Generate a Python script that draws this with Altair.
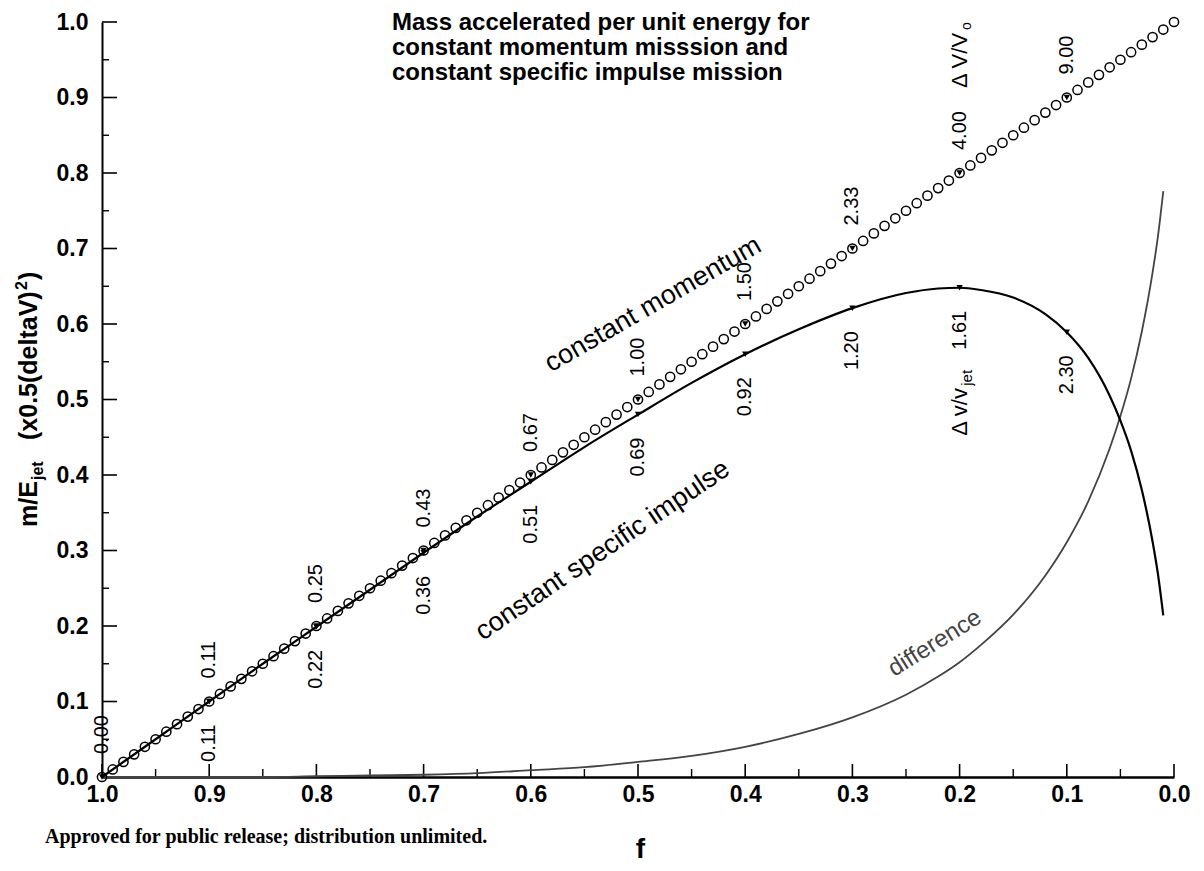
import altair as alt
import pandas as pd

FONT = "Liberation Sans"

# ---- constant momentum: open circles every 0.01 in f ----
cm_f = [0.00, 0.01, 0.02, 0.03, 0.04, 0.05, 0.06, 0.07, 0.08, 0.09,
        0.10, 0.11, 0.12, 0.13, 0.14, 0.15, 0.16, 0.17, 0.18, 0.19,
        0.20, 0.21, 0.22, 0.23, 0.24, 0.25, 0.26, 0.27, 0.28, 0.29,
        0.30, 0.31, 0.32, 0.33, 0.34, 0.35, 0.36, 0.37, 0.38, 0.39,
        0.40, 0.41, 0.42, 0.43, 0.44, 0.45, 0.46, 0.47, 0.48, 0.49,
        0.50, 0.51, 0.52, 0.53, 0.54, 0.55, 0.56, 0.57, 0.58, 0.59,
        0.60, 0.61, 0.62, 0.63, 0.64, 0.65, 0.66, 0.67, 0.68, 0.69,
        0.70, 0.71, 0.72, 0.73, 0.74, 0.75, 0.76, 0.77, 0.78, 0.79,
        0.80, 0.81, 0.82, 0.83, 0.84, 0.85, 0.86, 0.87, 0.88, 0.89,
        0.90, 0.91, 0.92, 0.93, 0.94, 0.95, 0.96, 0.97, 0.98, 0.99,
        1.00]
cm_y = [1.00, 0.99, 0.98, 0.97, 0.96, 0.95, 0.94, 0.93, 0.92, 0.91,
        0.90, 0.89, 0.88, 0.87, 0.86, 0.85, 0.84, 0.83, 0.82, 0.81,
        0.80, 0.79, 0.78, 0.77, 0.76, 0.75, 0.74, 0.73, 0.72, 0.71,
        0.70, 0.69, 0.68, 0.67, 0.66, 0.65, 0.64, 0.63, 0.62, 0.61,
        0.60, 0.59, 0.58, 0.57, 0.56, 0.55, 0.54, 0.53, 0.52, 0.51,
        0.50, 0.49, 0.48, 0.47, 0.46, 0.45, 0.44, 0.43, 0.42, 0.41,
        0.40, 0.39, 0.38, 0.37, 0.36, 0.35, 0.34, 0.33, 0.32, 0.31,
        0.30, 0.29, 0.28, 0.27, 0.26, 0.25, 0.24, 0.23, 0.22, 0.21,
        0.20, 0.19, 0.18, 0.17, 0.16, 0.15, 0.14, 0.13, 0.12, 0.11,
        0.10, 0.09, 0.08, 0.07, 0.06, 0.05, 0.04, 0.03, 0.02, 0.01,
        0.00]

# ---- constant specific impulse curve ----
csi_f = [1.00, 0.95, 0.90, 0.85, 0.80, 0.75, 0.70, 0.65, 0.60, 0.55,
         0.50, 0.45, 0.40, 0.35, 0.30, 0.25, 0.22, 0.20, 0.18, 0.15,
         0.12, 0.10, 0.08, 0.06, 0.05, 0.04, 0.03, 0.02, 0.015, 0.01]
csi_y = [0.000, 0.050, 0.100, 0.150, 0.199, 0.248, 0.297, 0.345, 0.391, 0.437,
         0.480, 0.522, 0.560, 0.593, 0.621, 0.641, 0.647, 0.648, 0.645, 0.635,
         0.613, 0.589, 0.555, 0.505, 0.472, 0.432, 0.380, 0.312, 0.269, 0.214]

# ---- difference curve ----
diff_f = [1.00, 0.95, 0.90, 0.85, 0.80, 0.75, 0.70, 0.65, 0.60, 0.55,
          0.50, 0.45, 0.40, 0.35, 0.30, 0.25, 0.22, 0.20, 0.18, 0.15,
          0.12, 0.10, 0.08, 0.06, 0.05, 0.04, 0.03, 0.02, 0.015, 0.01]
diff_y = [0.000, 0.000, 0.000, 0.000, 0.001, 0.002, 0.003, 0.005, 0.009, 0.013,
          0.020, 0.028, 0.040, 0.057, 0.079, 0.109, 0.133, 0.152, 0.175, 0.215,
          0.267, 0.311, 0.365, 0.435, 0.478, 0.528, 0.590, 0.668, 0.716, 0.776]

# ---- markers and value labels ----
cm_mark_f = [1.0, 0.9, 0.8, 0.7, 0.6, 0.5, 0.4, 0.3, 0.2, 0.1]
cm_mark_y = [0.0, 0.1, 0.2, 0.3, 0.4, 0.5, 0.6, 0.7, 0.8, 0.9]
cm_labels = ["0.00", "0.11", "0.25", "0.43", "0.67", "1.00", "1.50", "2.33", "4.00", "9.00"]

csi_mark_f = [0.9, 0.8, 0.7, 0.6, 0.5, 0.4, 0.3, 0.2, 0.1]
csi_mark_y = [0.100, 0.199, 0.297, 0.391, 0.480, 0.560, 0.621, 0.648, 0.589]
csi_labels = ["0.11", "0.22", "0.36", "0.51", "0.69", "0.92", "1.20", "1.61", "2.30"]

x_major = [1.0, 0.9, 0.8, 0.7, 0.6, 0.5, 0.4, 0.3, 0.2, 0.1, 0.0]
x_minor = [0.95, 0.85, 0.75, 0.65, 0.55, 0.45, 0.35, 0.25, 0.15, 0.05]
y_major = [0.0, 0.1, 0.2, 0.3, 0.4, 0.5, 0.6, 0.7, 0.8, 0.9, 1.0]
y_minor = [0.05, 0.15, 0.25, 0.35, 0.45, 0.55, 0.65, 0.75, 0.85, 0.95]

title_lines = ["Mass accelerated per unit energy for",
               "constant momentum misssion and",
               "constant specific impulse mission"]

W, H = 1072, 755

xscale = alt.Scale(domain=[0, 1], reverse=True)
yscale = alt.Scale(domain=[0, 1])

X_AXIS = alt.Axis(values=x_major, format=".1f", ticks=False, grid=False,
                  domainColor="black", domainWidth=2.5,
                  labelFont=FONT, labelFontWeight="bold", labelFontSize=23,
                  labelColor="black", labelPadding=6, labelFlush=False,
                  title="f", titleFont=FONT, titleFontWeight="bold", titleFontSize=28,
                  titleColor="black", titleBaseline="alphabetic", titleY=80, titleX=538,
                  titleAlign="center")
Y_AXIS = alt.Axis(values=y_major, format=".1f", ticks=False, grid=False,
                  domainColor="black", domainWidth=2,
                  labelFont=FONT, labelFontWeight="bold", labelFontSize=23,
                  labelColor="black", labelPadding=14, labelFlush=False, title=None)


def xq(field):
    return alt.X(field, type="quantitative", scale=xscale, axis=X_AXIS)


def yq(field):
    return alt.Y(field, type="quantitative", scale=yscale, axis=Y_AXIS)


df_cm = pd.DataFrame({"f": cm_f, "y": cm_y})
df_csi = pd.DataFrame({"f": csi_f, "y": csi_y})
df_diff = pd.DataFrame({"f": diff_f, "y": diff_y})
df_cm_mark = pd.DataFrame({"f": cm_mark_f, "y": cm_mark_y, "t": cm_labels})
df_csi_mark = pd.DataFrame({"f": csi_mark_f, "y": csi_mark_y, "t": csi_labels})

# inward ticks
xt_major = alt.Chart(pd.DataFrame({"f": x_major})).mark_rule(color="black", strokeWidth=1.6).encode(
    x=xq("f"), y=alt.value(H), y2=alt.value(H - 13))
xt_minor = alt.Chart(pd.DataFrame({"f": x_minor})).mark_rule(color="black", strokeWidth=1.4).encode(
    x=xq("f"), y=alt.value(H), y2=alt.value(H - 8))
yt_major = alt.Chart(pd.DataFrame({"y": y_major})).mark_rule(color="black", strokeWidth=1.6).encode(
    y=yq("y"), x=alt.value(0), x2=alt.value(15))
yt_minor = alt.Chart(pd.DataFrame({"y": y_minor})).mark_rule(color="black", strokeWidth=1.4).encode(
    y=yq("y"), x=alt.value(0), x2=alt.value(7))

cm_circles = alt.Chart(df_cm).mark_point(shape="circle", filled=False, size=85, opacity=1,
                                         color="black", strokeWidth=1.5).encode(
    x=xq("f"), y=yq("y"))

diff_line = alt.Chart(df_diff).mark_line(color="#444444", strokeWidth=1.8,
                                         interpolate="monotone").encode(
    x=xq("f"), y=yq("y"))

csi_line = alt.Chart(df_csi).mark_line(color="black", strokeWidth=2.2,
                                       interpolate="monotone").encode(
    x=xq("f"), y=yq("y"))

cm_marks = alt.Chart(df_cm_mark).mark_point(shape="triangle-down", filled=True, size=40,
                                            opacity=1, color="black").encode(x=xq("f"), y=yq("y"))
csi_marks = alt.Chart(df_csi_mark).mark_point(shape="triangle-down", filled=True, size=40,
                                              opacity=1, color="black").encode(x=xq("f"), y=yq("y"))

# value labels (rotated, reading upwards)
cm_text = alt.Chart(df_cm_mark).mark_text(angle=270, align="left", baseline="middle",
                                          dx=23, font=FONT, fontSize=20, color="black").encode(
    x=xq("f"), y=yq("y"), text="t:N")
csi_text = alt.Chart(df_csi_mark).mark_text(angle=270, align="right", baseline="middle",
                                            dx=-23, font=FONT, fontSize=20, color="black").encode(
    x=xq("f"), y=yq("y"), text="t:N")

# delta v / v labels
dv_o_df = pd.DataFrame({"f": [0.2], "y": [0.8], "t": ["\u0394 V/V"], "s": ["o"]})
dv_o = alt.Chart(dv_o_df).mark_text(angle=270, align="left", baseline="middle", dx=85,
                                    font=FONT, fontSize=22, color="black").encode(
    x=xq("f"), y=yq("y"), text="t:N")
dv_o_sub = alt.Chart(dv_o_df).mark_text(angle=270, align="left", baseline="middle", dx=143, dy=7,
                                        font=FONT, fontSize=14, color="black").encode(
    x=xq("f"), y=yq("y"), text="s:N")

dv_j_df = pd.DataFrame({"f": [0.2], "y": [0.648], "t": ["\u0394 v/v"], "s": ["jet"]})
dv_j = alt.Chart(dv_j_df).mark_text(angle=270, align="left", baseline="middle", dx=-148,
                                    font=FONT, fontSize=22, color="black").encode(
    x=xq("f"), y=yq("y"), text="t:N")
dv_j_sub = alt.Chart(dv_j_df).mark_text(angle=270, align="left", baseline="middle", dx=-98, dy=7,
                                        font=FONT, fontSize=15, color="black").encode(
    x=xq("f"), y=yq("y"), text="s:N")

# curve names
curve_names = pd.DataFrame({
    "f": [0.486, 0.533, 0.223],
    "y": [0.626, 0.300, 0.177],
    "t": ["constant momentum", "constant specific impulse", "difference"],
})
name_cm = alt.Chart(curve_names.iloc[[0]]).mark_text(angle=330, align="center", baseline="middle",
                                                     font=FONT, fontSize=27, color="black").encode(
    x=xq("f"), y=yq("y"), text="t:N")
name_csi = alt.Chart(curve_names.iloc[[1]]).mark_text(angle=326, align="center", baseline="middle",
                                                      font=FONT, fontSize=27, color="black").encode(
    x=xq("f"), y=yq("y"), text="t:N")
name_diff = alt.Chart(curve_names.iloc[[2]]).mark_text(angle=328, align="center", baseline="middle",
                                                       font=FONT, fontSize=24, color="#444444").encode(
    x=xq("f"), y=yq("y"), text="t:N")


def fixed_text(txt, x, y, **kw):
    return alt.Chart(pd.DataFrame({"t": [txt]})).mark_text(**kw).encode(
        x=alt.value(x), y=alt.value(y), text="t:N")


title_marks = [
    fixed_text(line, 290, yy, align="left", baseline="alphabetic", font=FONT,
               fontSize=24, fontWeight="bold", color="black")
    for line, yy in zip(title_lines, [8, 33, 58])
]

# y axis title: m/E_jet  (x0.5(deltaV)^2)
ytitle_kw = dict(angle=270, align="left", baseline="alphabetic", font=FONT,
                 fontWeight="bold", color="black")
ytitle = [
    fixed_text("m/E", -65, 505, fontSize=25, **ytitle_kw),
    fixed_text("jet", -59, 458, fontSize=16, **ytitle_kw),
    fixed_text("(x0.5(deltaV)", -65, 418, fontSize=25, **ytitle_kw),
    fixed_text("2", -75, 268, fontSize=16, **ytitle_kw),
    fixed_text(")", -65, 258, fontSize=25, **ytitle_kw),
]

footer = fixed_text("Approved for public release; distribution unlimited.", -57, 821,
                    align="left", baseline="alphabetic", font="Liberation Serif",
                    fontSize=20, fontWeight="bold", color="black")

chart = alt.layer(
    xt_major, xt_minor, yt_major, yt_minor,
    diff_line, cm_circles, csi_line, cm_marks, csi_marks,
    cm_text, csi_text, dv_o, dv_o_sub, dv_j, dv_j_sub,
    name_cm, name_csi, name_diff,
    *title_marks, *ytitle, footer,
).properties(
    width=W, height=H,
    autosize=alt.AutoSizeParams(type="none"),
    padding={"left": 94, "top": 14, "right": 22, "bottom": 86},
    background="white",
).configure_view(stroke=None)

chart.save("out.html", embed_options={"renderer": "svg", "actions": False})
